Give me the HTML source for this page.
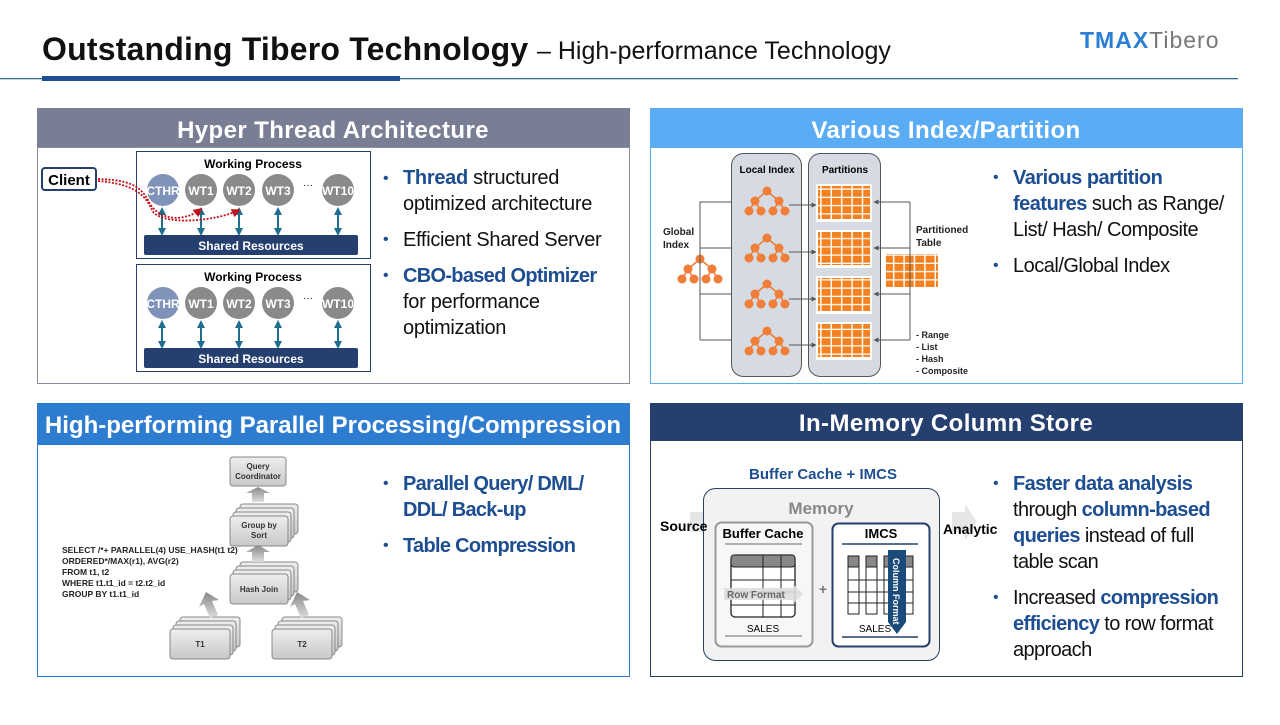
<!DOCTYPE html>
<html><head><meta charset="utf-8"><style>
body{margin:0;width:1280px;height:720px;background:#fff;overflow:hidden;font-family:"Liberation Sans",sans-serif}
svg text{font-family:"Liberation Sans",sans-serif}
</style></head><body>
<svg width="1280" height="720" viewBox="0 0 1280 720" xmlns="http://www.w3.org/2000/svg">
<defs>
<marker id="ar" viewBox="0 0 10 10" refX="5" refY="5" markerWidth="4" markerHeight="4" orient="auto-start-reverse"><path d="M0,0L10,5L0,10z" fill="#1e6f8f"/></marker>
<marker id="rr" viewBox="0 0 10 10" refX="8" refY="5" markerWidth="5" markerHeight="5" orient="auto"><path d="M0,0L10,5L0,10z" fill="#c0141c"/></marker>
<marker id="ga" viewBox="0 0 10 10" refX="9" refY="5" markerWidth="5" markerHeight="5" orient="auto"><path d="M0,0L10,5L0,10z" fill="#555"/></marker>
<g id="tree"><g stroke="#e87a30" stroke-width="1.5" fill="none"><path d="M0,0L-12,10L-18,20M-12,10L-6,20M0,0L12,10L6,20M12,10L18,20"/></g><g fill="#f07d38"><circle cx="0" cy="0" r="4.5"/><circle cx="-12" cy="10" r="4.5"/><circle cx="12" cy="10" r="4.5"/><circle cx="-18" cy="20" r="4.5"/><circle cx="-6" cy="20" r="4.5"/><circle cx="6" cy="20" r="4.5"/><circle cx="18" cy="20" r="4.5"/></g></g>
<pattern id="grid" width="10.4" height="8.25" patternUnits="userSpaceOnUse"><rect width="9" height="7" fill="#f58220"/></pattern>
</defs>

<!-- Header -->
<text x="42" y="60" font-size="32" font-weight="bold" fill="#111" letter-spacing="0.2">Outstanding Tibero Technology</text>
<text x="537" y="59" font-size="25" fill="#111" letter-spacing="0">– High-performance Technology</text>
<text x="1080" y="48" font-size="23" font-weight="bold" fill="#2a7fd4" letter-spacing="1">TMAX<tspan font-weight="normal" fill="#777">Tibero</tspan></text>
<rect x="0" y="78" width="1238" height="1.3" fill="#3a6f8f"/>
<rect x="42" y="76" width="358" height="5" fill="#1c4f94"/>

<!-- Panels -->
<rect x="37.5" y="147.5" width="592" height="236" fill="#fff" stroke="#8a8d9a"/>
<rect x="37" y="108" width="593" height="39" fill="#7a7e94"/>
<text x="333" y="138" font-size="24" font-weight="bold" fill="#fff" text-anchor="middle" letter-spacing="0.4">Hyper Thread Architecture</text>

<rect x="650.5" y="147.5" width="592" height="236" fill="#fff" stroke="#5aacf5"/>
<rect x="650" y="108" width="593" height="39" fill="#5aacf5"/>
<text x="946" y="138" font-size="24" font-weight="bold" fill="#fff" text-anchor="middle" letter-spacing="0.4">Various Index/Partition</text>

<rect x="37.5" y="444.5" width="592" height="232" fill="#fff" stroke="#2e7cd0"/>
<rect x="37" y="403" width="593" height="41" fill="#2e7cd0"/>
<text x="333" y="433" font-size="24" font-weight="bold" fill="#fff" text-anchor="middle">High-performing Parallel Processing/Compression</text>

<rect x="650.5" y="440.5" width="592" height="236" fill="#fff" stroke="#2a3f66"/>
<rect x="650" y="403" width="593" height="37" fill="#253f6e"/>
<text x="946" y="431" font-size="24" font-weight="bold" fill="#fff" text-anchor="middle" letter-spacing="0.4">In-Memory Column Store</text>

<!-- TL diagram -->
<rect x="42" y="168" width="54" height="22" rx="3" fill="#fff" stroke="#253f6e" stroke-width="2"/>
<text x="69" y="185" font-size="15" font-weight="bold" text-anchor="middle">Client</text>
<g id="wp">
<rect x="136.5" y="151.5" width="234" height="107" fill="#fff" stroke="#253f6e"/>
<text x="253" y="168" font-size="12" font-weight="bold" text-anchor="middle">Working Process</text>
<g font-size="12" font-weight="bold" fill="#fff" text-anchor="middle">
<circle cx="163" cy="190" r="16" fill="#7f93b8"/><text x="163" y="195">CTHR</text>
<circle cx="201" cy="190" r="16" fill="#8a8a8a"/><text x="201" y="195">WT1</text>
<circle cx="239" cy="190" r="16" fill="#8a8a8a"/><text x="239" y="195">WT2</text>
<circle cx="278" cy="190" r="16" fill="#8a8a8a"/><text x="278" y="195">WT3</text>
<circle cx="338" cy="190" r="16" fill="#8a8a8a"/><text x="338" y="195">WT10</text>
</g>
<text x="308" y="188" font-size="10" text-anchor="middle">···</text>
<g stroke="#1e6f8f" stroke-width="2" marker-start="url(#ar)" marker-end="url(#ar)">
<line x1="162" y1="211" x2="162" y2="232"/><line x1="201" y1="211" x2="201" y2="232"/><line x1="239" y1="211" x2="239" y2="232"/><line x1="278" y1="211" x2="278" y2="232"/><line x1="338" y1="211" x2="338" y2="232"/>
</g>
<rect x="144" y="235" width="214" height="20" rx="2" fill="#253f6e"/>
<text x="251" y="250" font-size="12" font-weight="bold" fill="#fff" text-anchor="middle">Shared Resources</text>
</g>
<use href="#wp" y="113"/>
<path d="M98,179 C130,180 140,186 148,200 C158,222 185,222 201,209" fill="none" stroke="#c0141c" stroke-width="1.8" stroke-dasharray="2,1.5" marker-end="url(#rr)"/>
<path d="M98,181 C135,184 145,195 152,210 C160,226 215,222 239,210" fill="none" stroke="#c0141c" stroke-width="1.8" stroke-dasharray="2,1.5" marker-end="url(#rr)"/>

<!-- TL bullets -->
<g font-size="20" fill="#111" letter-spacing="-0.3">
<text x="383" y="183" fill="#1d4e91" font-size="16">•</text>
<text x="403" y="184"><tspan font-weight="bold" fill="#1d4e91">Thread</tspan> structured</text>
<text x="403" y="210">optimized architecture</text>
<text x="383" y="244" fill="#1d4e91" font-size="16">•</text>
<text x="403" y="246">Efficient Shared Server</text>
<text x="383" y="280" fill="#1d4e91" font-size="16">•</text>
<text x="403" y="282" font-weight="bold" fill="#1d4e91" letter-spacing="-0.7">CBO-based Optimizer</text>
<text x="403" y="308">for performance</text>
<text x="403" y="334">optimization</text>
</g>

<!-- TR diagram -->
<rect x="731.5" y="153.5" width="70" height="223" rx="12" fill="#d6dbe3" stroke="#555"/>
<rect x="808.5" y="153.5" width="72" height="223" rx="12" fill="#d6dbe3" stroke="#555"/>
<text x="767" y="173" font-size="10" font-weight="bold" text-anchor="middle">Local Index</text>
<text x="845" y="173" font-size="10" font-weight="bold" text-anchor="middle">Partitions</text>
<g fill="#fff"><rect x="816" y="184" width="56" height="38"/><rect x="816" y="230" width="56" height="38"/><rect x="816" y="276" width="56" height="38"/><rect x="816" y="322" width="56" height="38"/><rect x="884" y="252" width="56" height="38"/></g>
<g fill="url(#grid)"><rect x="818" y="186" width="52" height="33"/><rect x="818" y="232" width="52" height="33"/><rect x="818" y="278" width="52" height="33"/><rect x="818" y="324" width="52" height="33"/><rect x="886" y="254" width="52" height="33"/></g>
<use href="#tree" x="767" y="191"/><use href="#tree" x="767" y="238"/><use href="#tree" x="767" y="284"/><use href="#tree" x="767" y="331"/><use href="#tree" x="700" y="259"/>
<g stroke="#555" fill="none">
<path d="M700,259V202H731M700,248H731M700,294H731M700,340H731V340"/>
<path d="M700,202V340"/>
<path d="M910,202H879M910,248H879M910,294H879M910,340H879M910,202V340"/>
</g>
<g stroke="#555" fill="none" marker-end="url(#ga)"><path d="M789,205H816"/><path d="M789,252H816"/><path d="M789,299H816"/><path d="M789,345H816"/>
<path d="M910,202H874"/><path d="M910,248H874"/><path d="M910,294H874"/><path d="M910,340H874"/></g>
<g font-size="10" font-weight="bold" fill="#222">
<text x="663" y="235">Global</text><text x="663" y="248">Index</text>
<text x="916" y="233">Partitioned</text><text x="916" y="246">Table</text>
<text x="916" y="338" font-size="9">- Range</text><text x="916" y="350" font-size="9">- List</text><text x="916" y="362" font-size="9">- Hash</text><text x="916" y="374" font-size="9">- Composite</text>
</g>

<!-- TR bullets -->
<g font-size="20" fill="#111" letter-spacing="-0.5">
<text x="993" y="182" fill="#1d4e91" font-size="16">•</text>
<text x="1013" y="184" font-weight="bold" fill="#1d4e91">Various partition</text>
<text x="1013" y="210"><tspan font-weight="bold" fill="#1d4e91">features</tspan> such as Range/</text>
<text x="1013" y="236">List/ Hash/ Composite</text>
<text x="993" y="270" fill="#1d4e91" font-size="16">•</text>
<text x="1013" y="272">Local/Global Index</text>
</g>

<!-- BL diagram -->
<defs><linearGradient id="bx" x1="0" y1="0" x2="0" y2="1"><stop offset="0" stop-color="#eee"/><stop offset="1" stop-color="#c8c8c8"/></linearGradient>
<linearGradient id="upa" x1="0" y1="1" x2="0" y2="0"><stop offset="0" stop-color="#ddd"/><stop offset="1" stop-color="#888"/></linearGradient></defs>
<g stroke="#888" fill="url(#bx)">
<rect x="230" y="457" width="56" height="29" rx="3"/>
<rect x="240" y="504" width="58" height="30" rx="3"/><rect x="236" y="508" width="58" height="30" rx="3"/><rect x="233" y="512" width="58" height="30" rx="3"/><rect x="230" y="516" width="58" height="30" rx="3"/>
<rect x="240" y="562" width="58" height="30" rx="3"/><rect x="236" y="566" width="58" height="30" rx="3"/><rect x="233" y="570" width="58" height="30" rx="3"/><rect x="230" y="574" width="58" height="30" rx="3"/>
<rect x="180" y="617" width="60" height="30" rx="3"/><rect x="176" y="621" width="60" height="30" rx="3"/><rect x="173" y="625" width="60" height="30" rx="3"/><rect x="170" y="629" width="60" height="30" rx="3"/>
<rect x="282" y="617" width="60" height="30" rx="3"/><rect x="278" y="621" width="60" height="30" rx="3"/><rect x="275" y="625" width="60" height="30" rx="3"/><rect x="272" y="629" width="60" height="30" rx="3"/>
</g>
<g fill="url(#upa)"><path d="M252,502V493H246L258,487L270,493H264V502Z"/><path d="M252,562V552H246L258,545L270,552H264V562Z"/>
<path d="M210,618L204,604L199,607L206,592L219,600L212,601L218,615Z"/><path d="M301,618L295,604L290,607L297,592L310,600L303,601L309,615Z"/></g>
<g font-size="8" font-weight="bold" fill="#333" text-anchor="middle">
<text x="258" y="469">Query</text><text x="258" y="479">Coordinator</text>
<text x="259" y="528">Group by</text><text x="259" y="538">Sort</text>
<text x="259" y="592">Hash Join</text>
<text x="200" y="647">T1</text><text x="302" y="647">T2</text>
</g>
<g font-size="8.5" font-weight="bold" fill="#222">
<text x="62" y="553">SELECT /*+ PARALLEL(4) USE_HASH(t1 t2)</text>
<text x="62" y="564">ORDERED*/MAX(r1), AVG(r2)</text>
<text x="62" y="575">FROM t1, t2</text>
<text x="62" y="586">WHERE t1.t1_id = t2.t2_id</text>
<text x="62" y="597">GROUP BY t1.t1_id</text>
</g>
<g font-size="20" fill="#1d4e91" font-weight="bold" letter-spacing="-0.7">
<text x="383" y="488" font-size="16" font-weight="normal">•</text>
<text x="403" y="490">Parallel Query/ DML/</text>
<text x="403" y="516">DDL/ Back-up</text>
<text x="383" y="550" font-size="16" font-weight="normal">•</text>
<text x="403" y="552">Table Compression</text>
</g>

<!-- BR diagram -->
<text x="823" y="479" font-size="15" font-weight="bold" fill="#1d4e91" text-anchor="middle">Buffer Cache + IMCS</text>
<path d="M690,512H703V504L715,522L703,540V532H690Z" fill="#e6e6e6"/>
<path d="M952,512H965V504L977,522L965,540V532H952Z" fill="#e6e6e6"/>
<rect x="703.5" y="488.5" width="236" height="172" rx="12" fill="#f2f2f2" stroke="#2a3f66"/>
<text x="821" y="514" font-size="17" font-weight="bold" fill="#888" text-anchor="middle">Memory</text>
<text x="660" y="531" font-size="14" font-weight="bold">Source</text>
<text x="943" y="534" font-size="14" font-weight="bold">Analytic</text>
<rect x="715.5" y="522.5" width="97" height="124" rx="6" fill="#f7f7f7" stroke="#999" stroke-width="2"/>
<rect x="832.5" y="523.5" width="97" height="123" rx="6" fill="#fff" stroke="#253f6e" stroke-width="2"/>
<text x="763" y="538" font-size="13" font-weight="bold" text-anchor="middle">Buffer Cache</text>
<text x="881" y="538" font-size="13" font-weight="bold" text-anchor="middle">IMCS</text>
<line x1="725" y1="544" x2="802" y2="544" stroke="#999" stroke-width="1.5"/>
<line x1="725" y1="636" x2="802" y2="636" stroke="#999" stroke-width="1.5"/>
<line x1="842" y1="544" x2="918" y2="544" stroke="#253f6e" stroke-width="1.5"/>
<line x1="842" y1="637" x2="918" y2="637" stroke="#253f6e" stroke-width="1.5"/>
<rect x="731" y="555" width="64" height="62" rx="4" fill="#fff" stroke="#222" stroke-width="1.3"/>
<rect x="731" y="555" width="64" height="12" rx="3" fill="#888" stroke="#222"/>
<g stroke="#222"><path d="M731,580H795M731,592H795M731,605H795M763,555V617M781,555V617"/></g>
<path d="M724,588H793V584L803,594L793,604V600H724Z" fill="#ddd" opacity="0.9"/>
<text x="727" y="598" font-size="10" font-weight="bold" fill="#666">Row Format</text>
<text x="763" y="632" font-size="10" text-anchor="middle">SALES</text>
<text x="823" y="594" font-size="14" font-weight="bold" fill="#777" text-anchor="middle">+</text>
<g stroke="#222" fill="#fff">
<rect x="848" y="556" width="11" height="58"/><rect x="866" y="556" width="11" height="58"/><rect x="884" y="556" width="11" height="58"/><rect x="902" y="556" width="11" height="58"/>
</g>
<g fill="#888" stroke="#222"><rect x="848" y="556" width="11" height="11"/><rect x="866" y="556" width="11" height="11"/><rect x="884" y="556" width="11" height="11"/><rect x="902" y="556" width="11" height="11"/></g>
<g stroke="#222"><path d="M848,580H913M848,592H913M848,603H913"/></g>
<text x="875" y="632" font-size="10" text-anchor="middle">SALES</text>
<path d="M888,550H906V622L897,634L888,622Z" fill="#1a4b7a"/>
<text transform="translate(893,558) rotate(90)" font-size="9" font-weight="bold" fill="#fff">Column Format</text>

<g font-size="20" fill="#111" letter-spacing="-0.6">
<text x="993" y="488" fill="#1d4e91" font-size="16">•</text>
<text x="1013" y="490" font-weight="bold" fill="#1d4e91">Faster data analysis</text>
<text x="1013" y="516">through <tspan font-weight="bold" fill="#1d4e91">column-based</tspan></text>
<text x="1013" y="542"><tspan font-weight="bold" fill="#1d4e91">queries</tspan> instead of full</text>
<text x="1013" y="568">table scan</text>
<text x="993" y="602" fill="#1d4e91" font-size="16">•</text>
<text x="1013" y="604">Increased <tspan font-weight="bold" fill="#1d4e91">compression</tspan></text>
<text x="1013" y="630"><tspan font-weight="bold" fill="#1d4e91">efficiency</tspan> to row format</text>
<text x="1013" y="656">approach</text>
</g>
</svg>
</body></html>
